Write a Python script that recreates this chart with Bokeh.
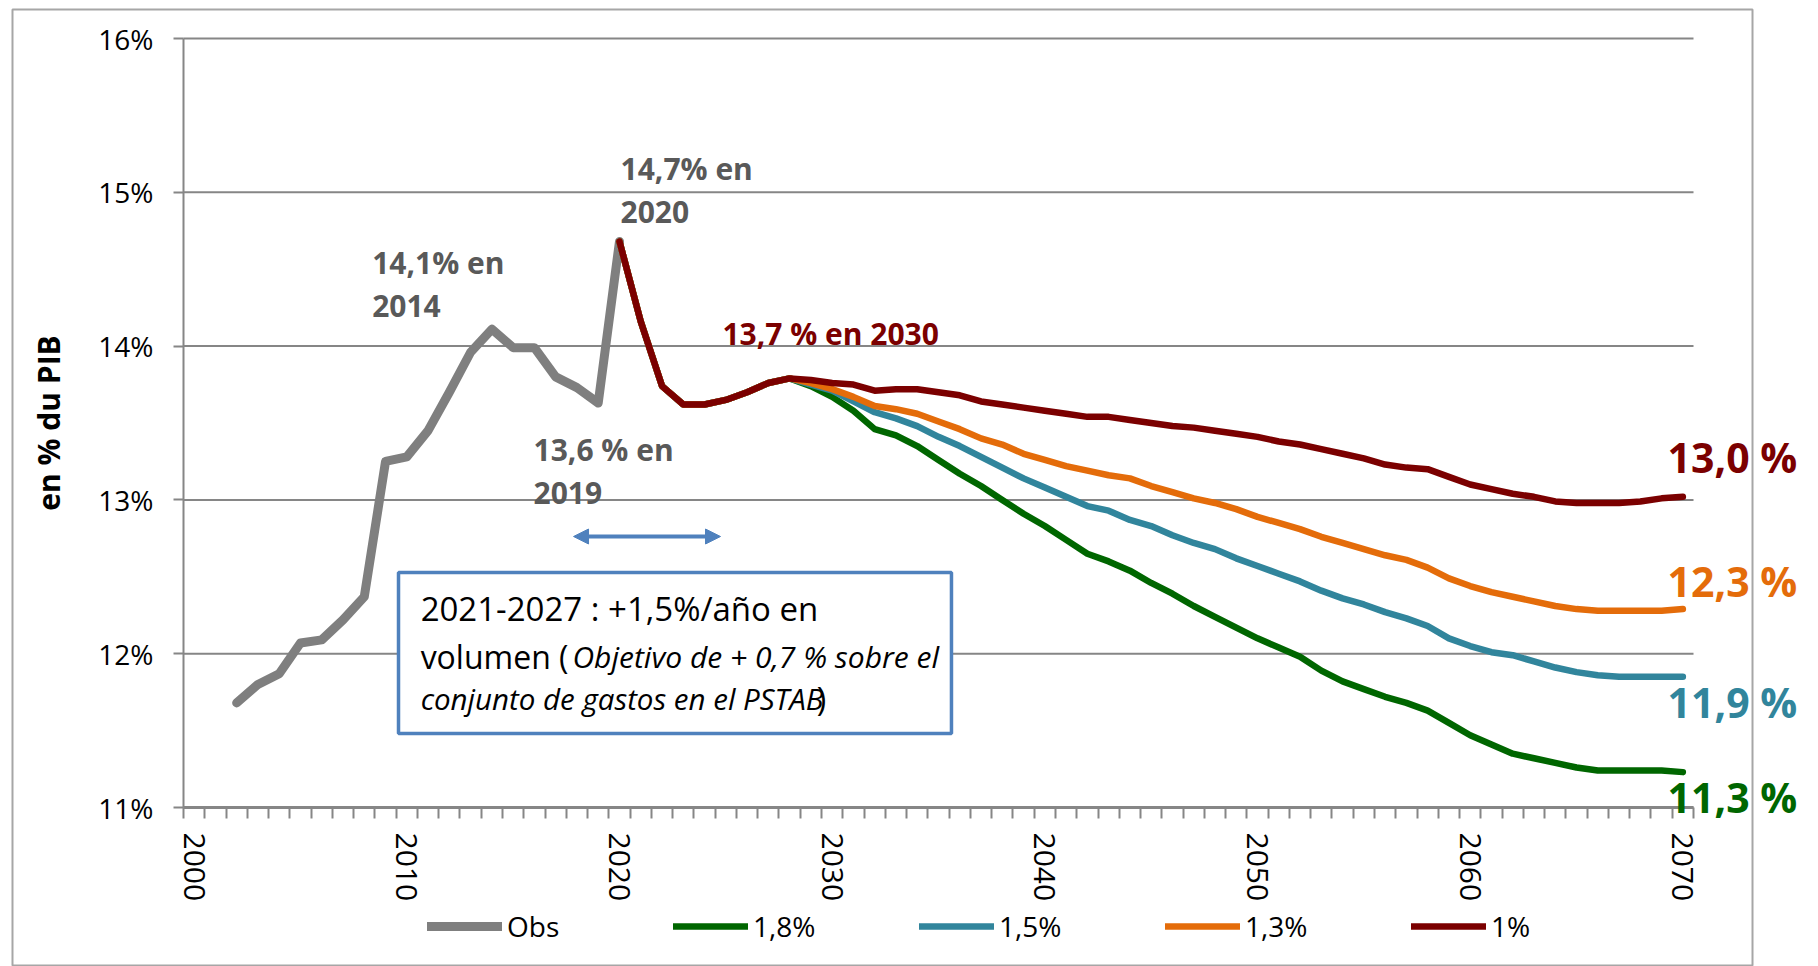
from bokeh.plotting import figure
from bokeh.models import (Range1d, FixedTicker, Legend, LegendItem, Label, BoxAnnotation,
                          Arrow, NormalHead)
from bokeh.embed import file_html
from bokeh.resources import INLINE

# ---------------- data ----------------
obs_years = list(range(2002, 2021))
obs_values = [11.68, 11.80, 11.87, 12.07, 12.09, 12.22, 12.37, 13.25, 13.28, 13.45,
              13.70, 13.96, 14.11, 13.99, 13.99, 13.80, 13.73, 13.63, 14.68]

common_years = list(range(2020, 2029))
common_values = [14.68, 14.16, 13.74, 13.62, 13.62, 13.65, 13.70, 13.76, 13.79]

proj_years = list(range(2029, 2071))
s_1_8 = [13.74, 13.67, 13.58, 13.46, 13.42, 13.35, 13.26, 13.17, 13.09, 13.00,
         12.91, 12.83, 12.74, 12.65, 12.60, 12.54, 12.46, 12.39, 12.31, 12.24,
         12.17, 12.10, 12.04, 11.98, 11.89, 11.82, 11.77, 11.72, 11.68, 11.63,
         11.55, 11.47, 11.41, 11.35, 11.32, 11.29, 11.26, 11.24, 11.24, 11.24,
         11.24, 11.23]
s_1_5 = [13.75, 13.71, 13.64, 13.57, 13.53, 13.48, 13.41, 13.35, 13.28, 13.21,
         13.14, 13.08, 13.02, 12.96, 12.93, 12.87, 12.83, 12.77, 12.72, 12.68,
         12.62, 12.57, 12.52, 12.47, 12.41, 12.36, 12.32, 12.27, 12.23, 12.18,
         12.10, 12.05, 12.01, 11.99, 11.95, 11.91, 11.88, 11.86, 11.85, 11.85,
         11.85, 11.85]
s_1_3 = [13.76, 13.72, 13.67, 13.61, 13.59, 13.56, 13.51, 13.46, 13.40, 13.36,
         13.30, 13.26, 13.22, 13.19, 13.16, 13.14, 13.09, 13.05, 13.01, 12.98,
         12.94, 12.89, 12.85, 12.81, 12.76, 12.72, 12.68, 12.64, 12.61, 12.56,
         12.49, 12.44, 12.40, 12.37, 12.34, 12.31, 12.29, 12.28, 12.28, 12.28,
         12.28, 12.29]
s_1_0 = [13.78, 13.76, 13.75, 13.71, 13.72, 13.72, 13.70, 13.68, 13.64, 13.62,
         13.60, 13.58, 13.56, 13.54, 13.54, 13.52, 13.50, 13.48, 13.47, 13.45,
         13.43, 13.41, 13.38, 13.36, 13.33, 13.30, 13.27, 13.23, 13.21, 13.20,
         13.15, 13.10, 13.07, 13.04, 13.02, 12.99, 12.98, 12.98, 12.98, 12.99,
         13.01, 13.02]

series_names = ["Obs", "1,8%", "1,5%", "1,3%", "1%"]
end_labels = ["11,3 %", "11,9 %", "12,3 %", "13,0 %"]

x_tick_years = [2000, 2010, 2020, 2030, 2040, 2050, 2060, 2070]
x_minor = [1999.5 + i for i in range(72)]
y_ticks = [11, 12, 13, 14, 15, 16]
y_tick_labels = ["11%", "12%", "13%", "14%", "15%", "16%"]

# ---------------- styles ----------------
FONT = "Open Sans"
GRAY = "#7F7F7F"
GREEN = "#006600"
BLUE = "#31859C"
ORANGE = "#E46C0A"
RED = "#7B0000"
BOXBLUE = "#4F81BD"
AXISGRAY = "#868686"

X_LO, X_HI = 1999.5, 2070.5     # plotted category span
Y_LO, Y_HI = 11, 16

p = figure(width=1818, height=966, x_range=Range1d(1990.896, 2076.377), y_range=Range1d(9.9662, 16.2471),
           output_backend="svg", toolbar_location=None, min_border=0)
p.outline_line_color = None
p.background_fill_color = "white"
p.border_fill_color = "white"
p.xgrid.visible = False
p.ygrid.visible = False

# horizontal grid lines over the category span
p.segment(x0=[X_LO] * len(y_ticks), x1=[X_HI] * len(y_ticks), y0=y_ticks, y1=y_ticks,
          line_color=AXISGRAY, line_width=2)

# y axis
yax = p.yaxis[0]
yax.fixed_location = X_LO
yax.bounds = (Y_LO, Y_HI)
yax.ticker = FixedTicker(ticks=y_ticks)
yax.major_label_overrides = {t: l for t, l in zip(y_ticks, y_tick_labels)}
yax.axis_line_color = AXISGRAY
yax.axis_line_width = 2
yax.major_tick_line_color = AXISGRAY
yax.major_tick_line_width = 2
yax.major_tick_out = 10
yax.major_tick_in = 0
yax.minor_tick_line_color = None
yax.major_label_standoff = 20
yax.major_label_text_font = FONT
yax.major_label_text_font_size = "28px"
yax.major_label_text_color = "#000000"
yax.axis_label = "en % du PIB"
yax.axis_label_text_font = FONT
yax.axis_label_text_font_size = "30px"
yax.axis_label_text_font_style = "bold"
yax.axis_label_text_color = "#000000"
yax.axis_label_standoff = 26

# x axis
xax = p.xaxis[0]
xax.fixed_location = Y_LO
xax.bounds = (X_LO, X_HI)
xax.ticker = FixedTicker(ticks=x_tick_years, minor_ticks=x_minor)
xax.major_label_overrides = {t: str(t) for t in x_tick_years}
xax.axis_line_color = AXISGRAY
xax.axis_line_width = 3
xax.major_tick_out = 0
xax.major_tick_in = 0
xax.major_tick_line_color = None
xax.minor_tick_line_color = AXISGRAY
xax.minor_tick_line_width = 2
xax.minor_tick_out = 11
xax.minor_tick_in = 0
xax.major_label_orientation = "vertical"
xax.major_label_standoff = 14
xax.major_label_text_font = FONT
xax.major_label_text_font_size = "30px"
xax.major_label_text_color = "#000000"

# lines
r_obs = p.line(obs_years, obs_values, line_color=GRAY, line_width=9, line_cap="round", line_join="round")
scen = [(s_1_8, GREEN), (s_1_5, BLUE), (s_1_3, ORANGE), (s_1_0, RED)]
renderers = [r_obs]
for vals, col in scen:
    r = p.line(common_years + proj_years, common_values + vals, line_color=col, line_width=6.5,
               line_cap="round", line_join="round")
    renderers.append(r)

# legend
legend = Legend(items=[LegendItem(label=n, renderers=[r]) for n, r in zip(series_names, renderers)],
                orientation="horizontal", location=(427, 21), glyph_width=75, glyph_height=20,
                label_width=166, spacing=0, padding=0, margin=0, label_standoff=5,
                label_text_font=FONT, label_text_font_size="28px", label_text_color="#000000",
                border_line_alpha=0, background_fill_alpha=0)
p.add_layout(legend)

# outer frame of the chart area
p.add_layout(BoxAnnotation(left=1991.46, right=2073.274, top=16.1886, bottom=9.9727,
                           fill_alpha=0, line_color="#A6A6A6", line_alpha=1, line_width=2))

# text box + arrow
p.add_layout(BoxAnnotation(left=2009.61, right=2035.61, top=12.528, bottom=11.481,
                           fill_color="white", fill_alpha=1, line_color=BOXBLUE, line_alpha=1,
                           line_width=3.5))
p.add_layout(Arrow(x_start=2017.84, y_start=12.762, x_end=2024.75, y_end=12.762,
                   line_color=BOXBLUE, line_width=4, line_alpha=1,
                   start=NormalHead(size=15, fill_color=BOXBLUE, line_color=BOXBLUE),
                   end=NormalHead(size=15, fill_color=BOXBLUE, line_color=BOXBLUE)))

def lab(x, y, text, size, color="#000000", style="normal"):
    p.add_layout(Label(x=x, y=y, text=text, text_font=FONT, text_font_size=size,
                       text_font_style=style, text_color=color, text_baseline="middle",
                       text_align="left"))

lab(2010.65, 12.297, "2021-2027 : +1,5%/año en", "33px")
lab(2010.65, 11.982, "volumen (", "32px")
lab(2017.79, 11.982, "Objetivo de + 0,7 % sobre el", "30px", style="italic")
lab(2010.65, 11.709, "conjunto de gastos en el PSTAB", "29.5px", style="italic")
lab(2029.28, 11.709, ")", "32px")

# annotations
ann_gray = "#595959"
lab(2008.37, 14.544, "14,1% en", "30px", ann_gray, "bold")
lab(2008.37, 14.264, "2014", "30px", ann_gray, "bold")
lab(2020.05, 15.155, "14,7% en", "30px", ann_gray, "bold")
lab(2020.05, 14.869, "2020", "30px", ann_gray, "bold")
lab(2015.96, 13.328, "13,6 % en", "30px", ann_gray, "bold")
lab(2015.96, 13.048, "2019", "30px", ann_gray, "bold")
lab(2024.84, 14.082, "13,7 % en 2030", "30px", RED, "bold")

end_y = [11.0715, 11.686, 12.4707, 13.2776]
for txt, yy, col in zip(end_labels, end_y, [GREEN, BLUE, ORANGE, RED]):
    lab(2069.28, yy, txt, "41px", col, "bold")

open("out.html", "w").write(file_html(p, INLINE))
